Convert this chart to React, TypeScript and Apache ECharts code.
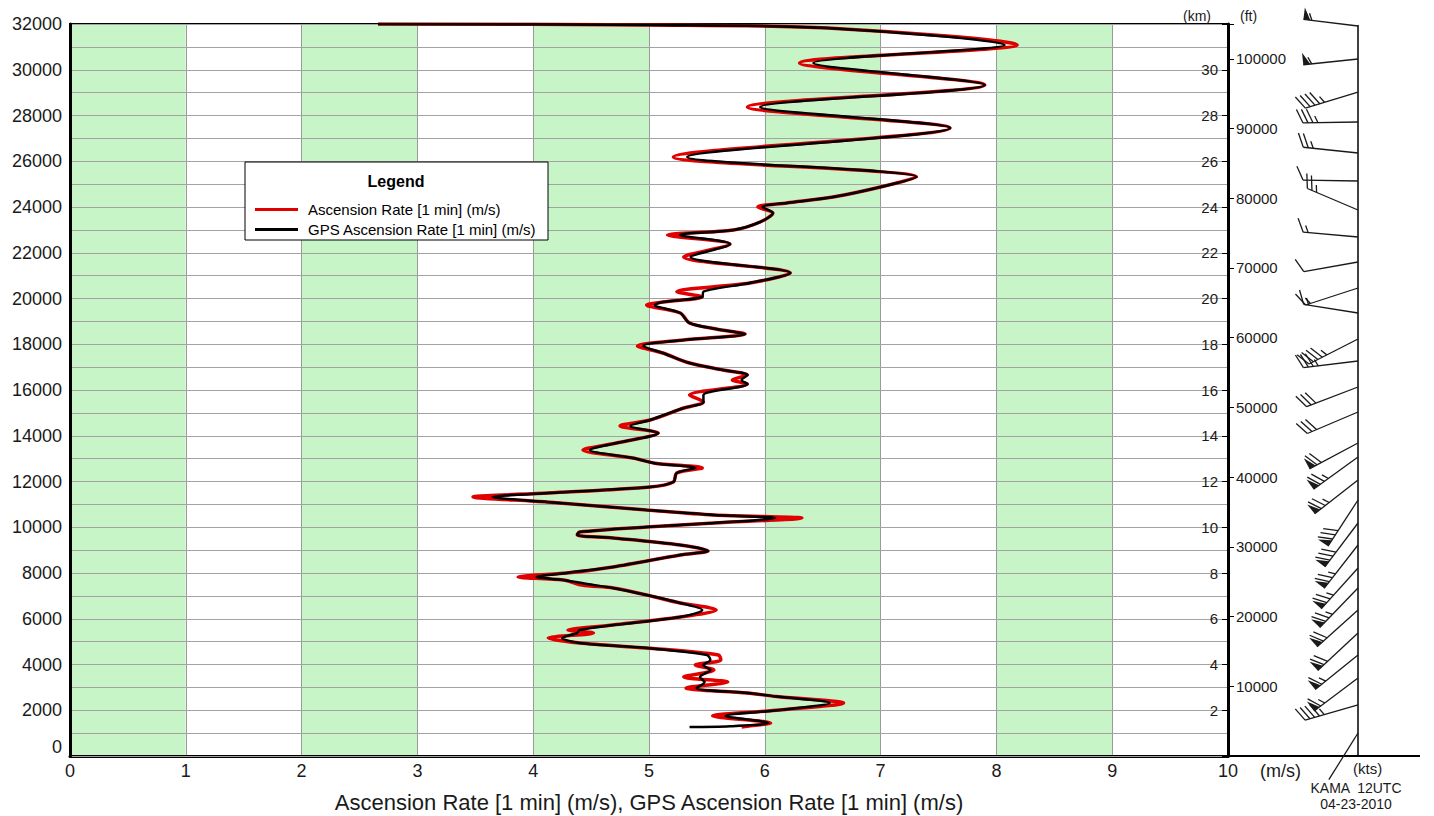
import React, { useEffect, useRef } from "react";
import * as echarts from "echarts";

// Sounding profile: altitude (m) with the two ascension-rate traces (m/s)
const altitudeM = [
  1268, 1300, 1443, 1750, 2011, 2317, 2600, 2754, 2973, 3235, 3454, 3760, 3978, 4197, 4415,
  4721, 4940, 5158, 5377, 5508, 5727, 6077, 6383, 6689, 7038, 7344, 7475, 7694, 7825, 8000,
  8262, 8787, 8962, 9224, 9530, 9661, 9792, 10011, 10186, 10404, 10535, 10754, 11104, 11322,
  11497, 11760, 11978, 12372, 12590, 12800, 13027, 13377, 13683, 14120, 14426, 14689, 15213,
  15475, 15781, 16262, 16437, 16656, 16874, 17180, 17617, 17924, 18186, 18448, 18667, 18929,
  19366, 19716, 19847, 20066, 20300, 20678, 21115, 21814, 22382, 22776, 22995, 23344, 23738,
  24000, 24175, 24437, 24874, 25312, 26186, 27454, 28372, 29333, 30295, 31080, 31825, 31960,
  32000,
];

const gpsRate = [
  5.35, 5.7, 6.03, 5.66, 6.13, 6.56, 6.1, 5.85, 5.41, 5.48, 5.44, 5.53, 5.47, 5.53, 5.5,
  4.98, 4.4, 4.25, 4.38, 4.4, 4.69, 5.27, 5.46, 5.27, 4.98, 4.69, 4.52, 4.26, 4.03, 4.29,
  4.69, 5.27, 5.51, 5.27, 4.69, 4.38, 4.4, 4.98, 5.56, 6.09, 5.56, 4.98, 4.12, 3.65,
  4.13, 5.01, 5.21, 5.24, 5.4, 5.05, 4.86, 4.49, 4.72, 5.08, 4.84, 5.01, 5.3,
  5.47, 5.47, 5.85, 5.8, 5.85, 5.64, 5.35, 5.12, 4.95, 5.3, 5.83, 5.58, 5.35,
  5.27, 5.05, 5.12, 5.46, 5.47, 5.87, 6.22, 5.36, 5.7, 5.27, 5.73, 5.96, 6.07,
  5.98, 6.19, 6.59, 7.0, 7.31, 5.33, 7.6, 5.96, 7.9, 6.42, 8.07, 6.54, 5.0,
  2.66,
];

const ascRate = [
  5.8, 5.85, 6.05, 5.55, 6.13, 6.68, 6.1, 5.85, 5.32, 5.68, 5.3, 5.56, 5.4, 5.62, 5.6,
  4.98, 4.4, 4.13, 4.52, 4.3, 4.69, 5.27, 5.58, 5.27, 4.98, 4.69, 4.42, 4.26, 3.87, 4.29,
  4.69, 5.27, 5.51, 5.27, 4.69, 4.38, 4.4, 4.98, 5.56, 6.32, 5.56, 4.98, 4.12, 3.48,
  4.13, 5.01, 5.21, 5.24, 5.46, 5.05, 4.86, 4.43, 4.72, 5.08, 4.75, 5.01, 5.3,
  5.47, 5.35, 5.85, 5.72, 5.85, 5.64, 5.35, 5.12, 4.9, 5.3, 5.83, 5.58, 5.35,
  5.27, 4.98, 5.12, 5.46, 5.24, 5.87, 6.22, 5.3, 5.7, 5.16, 5.73, 5.96, 6.07,
  5.94, 6.19, 6.59, 7.0, 7.31, 5.21, 7.6, 5.85, 7.9, 6.3, 8.18, 6.54, 5.0,
  2.66,
];

// Wind barbs: altitude (m), direction wind blows from (deg), speed (kts)
const windAltM = [
  31913, 30470, 29027, 27716, 26361, 25137, 23869, 22689, 21596, 20459, 19366, 18230, 17268,
  16131, 15038, 13683, 13071, 12066, 11191, 10186, 9224, 8219, 7344, 6383, 5377, 4415, 3410,
  2230, 1005,
];
const windDirDeg = [
  277, 264, 253, 269, 276, 271, 293, 275, 260, 252, 279, 243, 263,
  249, 247, 242, 234, 232, 213, 217, 218, 222, 224, 228, 227, 231, 233,
  254, 212,
];
const windSpeedKt = [
  55, 55, 45, 35, 25, 10, 25, 15, 10, 15, 15, 45, 35,
  30, 30, 70, 75, 75, 80, 80, 75, 75, 75, 70, 70, 65, 65,
  45, 0,
];

const SERIES_ASC = "Ascension Rate [1 min] (m/s)";
const SERIES_GPS = "GPS Ascension Rate [1 min] (m/s)";
const FONT = "'Liberation Sans', Arial, sans-serif";
const TEXT = "#1a1a1a";

function barb(bx: number, by: number, dirDeg: number, speed: number): any[] {
  const L = 55;
  const r = (dirDeg * Math.PI) / 180;
  const ux = Math.sin(r);
  const uy = -Math.cos(r);
  const tx = bx + ux * L;
  const ty = by + uy * L;
  const px = -uy;
  const py = ux;
  let fx = 0.42 * ux + 0.9 * px;
  let fy = 0.42 * uy + 0.9 * py;
  const fn = Math.hypot(fx, fy);
  fx /= fn;
  fy /= fn;
  const FL = 15;
  const GAP = 5;
  const stroke = "#1a1a1a";
  const els: any[] = [
    { type: "line", silent: true, shape: { x1: bx, y1: by, x2: tx, y2: ty }, style: { stroke, lineWidth: 1.3 } },
  ];
  const at = (d: number) => [tx - ux * d, ty - uy * d];
  let s = 0;
  let rest = Math.round(speed / 5) * 5;
  while (rest >= 50) {
    const p0 = at(s);
    const p2 = at(s + 7);
    els.push({
      type: "polygon",
      silent: true,
      shape: { points: [p0, [p0[0] + px * 12, p0[1] + py * 12], p2] },
      style: { fill: stroke },
    });
    s += 8.5;
    rest -= 50;
  }
  while (rest >= 10) {
    const p = at(s);
    els.push({
      type: "line",
      silent: true,
      shape: { x1: p[0], y1: p[1], x2: p[0] + fx * FL, y2: p[1] + fy * FL },
      style: { stroke, lineWidth: 1.3 },
    });
    s += GAP;
    rest -= 10;
  }
  if (rest >= 5) {
    if (s === 0) s = GAP;
    const p = at(s);
    els.push({
      type: "line",
      silent: true,
      shape: { x1: p[0], y1: p[1], x2: p[0] + fx * FL * 0.5, y2: p[1] + fy * FL * 0.5 },
      style: { stroke, lineWidth: 1.3 },
    });
  }
  return els;
}

export default function App() {
  const ref = useRef<HTMLDivElement>(null);

  useEffect(() => {
    if (!ref.current) return;
    const chart = echarts.init(ref.current, undefined, { renderer: "svg" });
    const ftMax = 32000 / 0.3048;

    chart.setOption({
      animation: false,
      backgroundColor: "#ffffff",
      grid: {
        left: 70,
        right: 206,
        top: 24,
        bottom: 60,
        outerBoundsMode: "none",
        containLabel: false,
        show: true,
        borderColor: "#000",
        borderWidth: 2,
        backgroundColor: "transparent",
      },
      legend: {
        left: 250,
        top: 197,
        orient: "vertical",
        icon: "rect",
        itemWidth: 43,
        itemHeight: 3,
        itemGap: 5,
        selectedMode: false,
        z: 5,
        textStyle: { fontSize: 15, fontFamily: FONT, color: "#000", padding: [0, 0, 0, 5], lineHeight: 15 },
        data: [SERIES_ASC, SERIES_GPS],
      },
      xAxis: {
        type: "value",
        min: 0,
        max: 10,
        interval: 1,
        z: 0,
        name: "Ascension Rate [1 min] (m/s), GPS Ascension Rate [1 min] (m/s)",
        nameLocation: "middle",
        nameGap: 35,
        nameTextStyle: { fontSize: 22, fontFamily: FONT, color: TEXT },
        axisLine: { show: true, lineStyle: { color: "#000", width: 3 } },
        axisTick: { show: false },
        axisLabel: { fontSize: 18, fontFamily: FONT, color: TEXT, margin: 6 },
        splitLine: { show: true, lineStyle: { color: "#9a9a9a", width: 1 } },
        splitArea: { show: true, areaStyle: { color: ["#c8f5c8", "#ffffff"] } },
      },
      yAxis: [
        {
          type: "value",
          min: 0,
          max: 32000,
          interval: 1000,
          position: "left",
          z: 1,
          axisLine: { show: true, lineStyle: { color: "#000", width: 3 } },
          axisTick: { show: false },
          axisLabel: {
            fontSize: 18,
            fontFamily: FONT,
            color: TEXT,
            margin: 8,
            verticalAlignMinLabel: "bottom",
            formatter: (v: number) => (v % 2000 === 0 ? String(v) : ""),
          },
          splitLine: { show: true, lineStyle: { color: "#a3a3a3", width: 1 } },
        },
        {
          type: "value",
          min: 0,
          max: 32,
          interval: 2,
          position: "right",
          z: 2,
          axisLine: { show: true, lineStyle: { color: "#000", width: 3 } },
          axisTick: { show: true, inside: true, length: 6, lineStyle: { color: "#000" } },
          axisLabel: {
            inside: true,
            margin: 10,
            fontSize: 15,
            fontFamily: FONT,
            color: TEXT,
            formatter: (v: number) => (v === 0 || v === 32 ? "" : String(v)),
          },
          splitLine: { show: false },
        },
        {
          type: "value",
          min: 0,
          max: ftMax,
          interval: 10000,
          position: "right",
          z: 2,
          axisLine: { show: false },
          axisTick: { show: true, inside: false, length: 6, lineStyle: { color: "#000" } },
          axisLabel: {
            margin: 8,
            fontSize: 15,
            fontFamily: FONT,
            color: TEXT,
            formatter: (v: number) => (v === 0 || v > 100000 ? "" : String(v)),
          },
          splitLine: { show: false },
        },
      ],
      series: [
        {
          type: "line",
          name: SERIES_ASC,
          yAxisIndex: 0,
          data: altitudeM.map((a, i) => [ascRate[i], a]),
          showSymbol: false,
          smooth: 0.3,
          color: "#e00000",
          lineStyle: { color: "#e00000", width: 3.5 },
          z: 3,
        },
        {
          type: "line",
          name: SERIES_GPS,
          yAxisIndex: 0,
          data: altitudeM.map((a, i) => [gpsRate[i], a]),
          showSymbol: false,
          smooth: 0.3,
          color: "#000000",
          lineStyle: { color: "#000000", width: 2.5 },
          z: 4,
        },
      ],
    });

    const yPix = (alt: number) => chart.convertToPixel({ yAxisIndex: 0 }, alt) as number;
    const xPix = (v: number) => chart.convertToPixel({ xAxisIndex: 0 }, v) as number;
    const plotRight = xPix(10);
    const plotBottom = yPix(0);
    const plotTop = yPix(32000);
    const barbX = plotRight + 130;

    const elements: any[] = [
      // legend frame
      {
        type: "rect",
        z: 3,
        silent: true,
        shape: { x: 245, y: 162, width: 303, height: 78 },
        style: { fill: "#ffffff", stroke: "#000", lineWidth: 1 },
      },
      {
        type: "text",
        z: 4,
        silent: true,
        x: 396,
        y: 181,
        style: {
          text: "Legend",
          fontFamily: FONT,
          fontSize: 16,
          fontWeight: "bold",
          fill: "#000",
          align: "center",
          verticalAlign: "middle",
        },
      },
      // unit captions
      {
        type: "text",
        silent: true,
        x: plotRight - 45,
        y: 16,
        style: { text: "(km)", fontFamily: FONT, fontSize: 14, fill: TEXT, verticalAlign: "middle" },
      },
      {
        type: "text",
        silent: true,
        x: plotRight + 12,
        y: 16,
        style: { text: "(ft)", fontFamily: FONT, fontSize: 14, fill: TEXT, verticalAlign: "middle" },
      },
      {
        type: "text",
        silent: true,
        x: plotRight + 32,
        y: plotBottom + 15,
        style: { text: "(m/s)", fontFamily: FONT, fontSize: 18, fill: TEXT, verticalAlign: "middle" },
      },
      {
        type: "text",
        silent: true,
        x: barbX - 5,
        y: plotBottom + 12,
        style: { text: "(kts)", fontFamily: FONT, fontSize: 15, fill: TEXT, verticalAlign: "middle" },
      },
      {
        type: "text",
        silent: true,
        x: barbX - 2,
        y: plotBottom + 32,
        style: { text: "KAMA  12UTC", fontFamily: FONT, fontSize: 14, fill: TEXT, align: "center", verticalAlign: "middle" },
      },
      {
        type: "text",
        silent: true,
        x: barbX - 2,
        y: plotBottom + 48,
        style: { text: "04-23-2010", fontFamily: FONT, fontSize: 14, fill: TEXT, align: "center", verticalAlign: "middle" },
      },
      // barb panel frame
      {
        type: "line",
        silent: true,
        shape: { x1: barbX, y1: plotTop + 1, x2: barbX, y2: plotBottom },
        style: { stroke: "#000", lineWidth: 1.5 },
      },
      {
        type: "line",
        silent: true,
        shape: { x1: plotRight, y1: plotBottom, x2: plotRight + 192, y2: plotBottom },
        style: { stroke: "#000", lineWidth: 2 },
      },
    ];

    windAltM.forEach((alt, i) => {
      elements.push(...barb(barbX, yPix(alt), windDirDeg[i], windSpeedKt[i]));
    });

    chart.setOption({ graphic: { elements } });

    return () => chart.dispose();
  }, []);

  return (
    <div
      ref={ref}
      style={{ position: "fixed", left: 0, top: 0, width: 1434, height: 816, background: "#fff" }}
    />
  );
}
